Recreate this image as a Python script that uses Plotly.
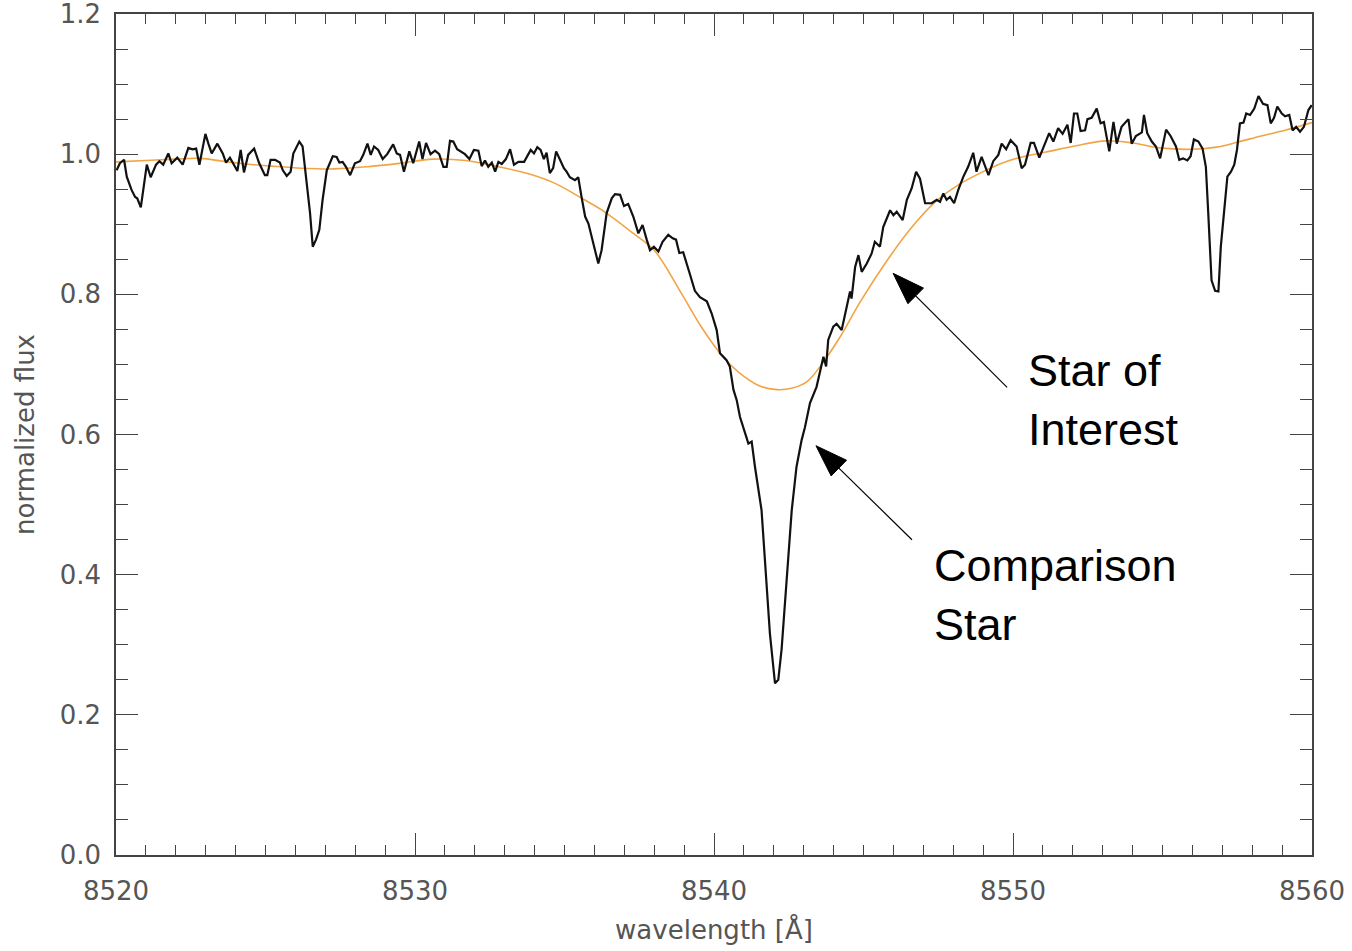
import math
import plotly.graph_objects as go

# Comparison star spectrum (wavelength in Angstrom, normalized flux)
comp_wave = [
    8520.02, 8520.13, 8520.27, 8520.36, 8520.52, 8520.64, 8520.71, 8520.83, 8521.03, 8521.16,
    8521.34, 8521.45, 8521.58, 8521.75, 8521.86, 8522.05, 8522.23, 8522.42, 8522.56, 8522.68,
    8522.79, 8522.99, 8523.09, 8523.20, 8523.39, 8523.57, 8523.68, 8523.81, 8524.06, 8524.17,
    8524.28, 8524.42, 8524.62, 8524.79, 8524.98, 8525.06, 8525.17, 8525.32, 8525.48, 8525.58,
    8525.71, 8525.84, 8525.93, 8526.13, 8526.24, 8526.35, 8526.49, 8526.58, 8526.69, 8526.80,
    8526.91, 8527.05, 8527.25, 8527.38, 8527.47, 8527.58, 8527.69, 8527.83, 8527.99, 8528.16,
    8528.27, 8528.41, 8528.52, 8528.63, 8528.77, 8528.92, 8529.07, 8529.27, 8529.39, 8529.50,
    8529.63, 8529.81, 8529.94, 8530.14, 8530.25, 8530.37, 8530.52, 8530.67, 8530.81, 8530.95,
    8531.06, 8531.17, 8531.28, 8531.41, 8531.67, 8531.82, 8531.97, 8532.12, 8532.23, 8532.34,
    8532.45, 8532.57, 8532.68, 8532.79, 8532.90, 8533.04, 8533.18, 8533.31, 8533.46, 8533.65,
    8533.87, 8533.98, 8534.09, 8534.20, 8534.31, 8534.40, 8534.51, 8534.62, 8534.72, 8534.85,
    8534.98, 8535.07, 8535.18, 8535.35, 8535.46, 8535.57, 8535.69, 8535.80, 8535.94, 8536.13,
    8536.24, 8536.41, 8536.58, 8536.69, 8536.86, 8536.99, 8537.13, 8537.30, 8537.47, 8537.61,
    8537.75, 8537.86, 8537.99, 8538.14, 8538.28, 8538.47, 8538.62, 8538.73, 8538.84, 8538.97,
    8539.20, 8539.36, 8539.53, 8539.76, 8539.92, 8540.09, 8540.20, 8540.42, 8540.53, 8540.65,
    8540.76, 8540.87, 8541.04, 8541.15, 8541.26, 8541.37, 8541.59, 8541.71, 8541.87, 8542.04,
    8542.15, 8542.26, 8542.43, 8542.60, 8542.76, 8542.93, 8543.04, 8543.21, 8543.43, 8543.60,
    8543.66, 8543.75, 8543.82, 8543.99, 8544.10, 8544.27, 8544.44, 8544.55, 8544.60, 8544.72,
    8544.83, 8544.94, 8545.11, 8545.27, 8545.38, 8545.55, 8545.66, 8545.89, 8546.00, 8546.11,
    8546.31, 8546.45, 8546.61, 8546.76, 8546.89, 8547.06, 8547.28, 8547.45, 8547.56, 8547.67,
    8547.78, 8547.89, 8548.03, 8548.17, 8548.34, 8548.50, 8548.67, 8548.78, 8548.95, 8549.18,
    8549.34, 8549.51, 8549.62, 8549.77, 8549.92, 8550.12, 8550.29, 8550.40, 8550.59, 8550.70,
    8550.88, 8551.04, 8551.21, 8551.35, 8551.51, 8551.66, 8551.82, 8551.93, 8552.04, 8552.15,
    8552.26, 8552.41, 8552.49, 8552.63, 8552.80, 8552.93, 8553.04, 8553.22, 8553.36, 8553.47,
    8553.63, 8553.86, 8553.97, 8554.11, 8554.31, 8554.38, 8554.49, 8554.64, 8554.78, 8554.92,
    8555.12, 8555.27, 8555.45, 8555.56, 8555.69, 8555.83, 8555.94, 8556.05, 8556.20, 8556.34,
    8556.45, 8556.53, 8556.64, 8556.76, 8556.87, 8556.95, 8557.06, 8557.17, 8557.29, 8557.40,
    8557.49, 8557.59, 8557.71, 8557.80, 8557.93, 8558.07, 8558.21, 8558.36, 8558.51, 8558.62,
    8558.73, 8558.84, 8558.99, 8559.10, 8559.24, 8559.35, 8559.47, 8559.60, 8559.73, 8559.88,
    8559.99,
]
comp_flux = [
    0.977, 0.987, 0.992, 0.968, 0.949, 0.939, 0.937, 0.924, 0.985, 0.967,
    0.985, 0.990, 0.985, 1.001, 0.987, 0.995, 0.985, 1.009, 1.007, 1.008,
    0.985, 1.029, 1.015, 1.001, 1.015, 1.001, 0.988, 0.995, 0.976, 1.006,
    0.974, 0.999, 1.008, 0.987, 0.970, 0.970, 0.992, 0.992, 0.988, 0.977,
    0.969, 0.975, 1.001, 1.018, 1.011, 0.968, 0.916, 0.868, 0.878, 0.892,
    0.935, 0.977, 0.997, 0.996, 0.988, 0.989, 0.982, 0.970, 0.987, 0.990,
    0.999, 1.015, 0.999, 1.011, 1.006, 0.993, 1.000, 1.014, 1.001, 0.999,
    0.975, 1.004, 0.987, 1.018, 0.993, 1.016, 1.000, 1.005, 1.000, 0.982,
    0.982, 1.019, 1.018, 1.007, 1.000, 0.993, 1.006, 1.005, 0.983, 0.991,
    0.982, 0.988, 0.975, 0.989, 0.986, 0.993, 1.007, 0.985, 0.989, 0.989,
    1.006, 1.001, 1.010, 1.006, 0.993, 1.002, 0.973, 0.980, 1.004, 0.992,
    0.980, 0.975, 0.967, 0.963, 0.967, 0.939, 0.911, 0.901, 0.878, 0.844,
    0.863, 0.916, 0.937, 0.943, 0.942, 0.926, 0.929, 0.911, 0.887, 0.899,
    0.878, 0.863, 0.868, 0.861, 0.875, 0.885, 0.880, 0.878, 0.859, 0.860,
    0.828, 0.805, 0.796, 0.790, 0.773, 0.749, 0.716, 0.706, 0.697, 0.664,
    0.649, 0.625, 0.602, 0.587, 0.590, 0.554, 0.492, 0.411, 0.316, 0.245,
    0.250, 0.293, 0.388, 0.492, 0.554, 0.592, 0.610, 0.645, 0.668, 0.697,
    0.711, 0.697, 0.735, 0.754, 0.758, 0.749, 0.782, 0.804, 0.794, 0.839,
    0.856, 0.832, 0.844, 0.858, 0.875, 0.868, 0.896, 0.920, 0.913, 0.918,
    0.906, 0.935, 0.951, 0.975, 0.965, 0.930, 0.930, 0.935, 0.932, 0.944,
    0.935, 0.939, 0.930, 0.949, 0.968, 0.982, 1.002, 0.975, 0.996, 0.970,
    0.990, 0.999, 1.015, 1.007, 1.020, 1.011, 0.980, 0.985, 1.016, 1.016,
    0.995, 1.013, 1.030, 1.018, 1.037, 1.029, 1.042, 1.016, 1.058, 1.058,
    1.033, 1.034, 1.050, 1.052, 1.065, 1.044, 1.046, 1.004, 1.046, 1.015,
    1.039, 1.050, 1.015, 1.026, 1.031, 1.056, 1.030, 1.018, 1.011, 0.994,
    1.035, 1.026, 1.011, 0.992, 0.994, 0.991, 0.997, 1.021, 1.018, 1.008,
    0.982, 0.916, 0.820, 0.805, 0.804, 0.868, 0.920, 0.968, 0.975, 0.985,
    1.006, 1.044, 1.045, 1.058, 1.056, 1.065, 1.083, 1.072, 1.070, 1.044,
    1.052, 1.068, 1.058, 1.054, 1.056, 1.034, 1.039, 1.032, 1.039, 1.063,
    1.070,
]

# Star of interest: broad, smooth profile
soi_wave = [
    8520.0, 8521.0, 8522.0, 8522.8, 8524.1, 8525.2, 8526.2, 8527.3, 8528.4, 8529.5,
    8530.6, 8531.7, 8532.8, 8533.8, 8534.7, 8535.5, 8536.4, 8537.3, 8538.0, 8538.9,
    8539.6, 8540.3, 8541.0, 8541.6, 8542.1, 8542.6, 8543.1, 8543.6, 8544.2, 8544.9,
    8545.8, 8546.6, 8547.4, 8548.2, 8548.9, 8549.5, 8550.2, 8551.1, 8552.1, 8553.1,
    8554.0, 8554.9, 8556.0, 8556.8, 8557.5, 8558.3, 8559.1, 8560.0,
]
soi_flux = [
    0.989, 0.991, 0.993, 0.994, 0.987, 0.983, 0.980, 0.979, 0.982, 0.987,
    0.993, 0.991, 0.982, 0.972, 0.958, 0.939, 0.916, 0.887, 0.863, 0.802,
    0.752, 0.711, 0.683, 0.668, 0.664, 0.666, 0.675, 0.700, 0.738, 0.790,
    0.849, 0.895, 0.932, 0.957, 0.973, 0.985, 0.995, 1.003, 1.012, 1.019,
    1.016, 1.009, 1.007, 1.010, 1.017, 1.026, 1.034, 1.045,
]

x_ticks = [8520, 8530, 8540, 8550, 8560]
y_ticks = [0.0, 0.2, 0.4, 0.6, 0.8, 1.0, 1.2]

axis_color = "#444444"
label_color = "#555555"
label_family = "DejaVu Sans, sans-serif"
tick_font = dict(family=label_family, size=26, color=label_color)
title_font = dict(family=label_family, size=26, color=label_color)

fig = go.Figure()
fig.add_trace(go.Scatter(
    x=soi_wave, y=soi_flux, mode="lines",
    line=dict(color="#F2A445", width=1.6, shape="spline", smoothing=1.0),
    hoverinfo="skip", showlegend=False,
))
fig.add_trace(go.Scatter(
    x=comp_wave, y=comp_flux, mode="lines",
    line=dict(color="#111111", width=2.2),
    hoverinfo="skip", showlegend=False,
))

common_axis = dict(
    showgrid=False, zeroline=False, automargin=False,
    showline=True, linecolor=axis_color, linewidth=1.5, mirror="ticks",
    ticks="inside", tickcolor=axis_color, tickwidth=1.3,
    tickfont=tick_font, ticklabeloverflow="allow",
)

fig.update_xaxes(
    range=[8520, 8560], tickvals=x_ticks, ticktext=[str(v) for v in x_ticks],
    ticklen=22, ticklabelstandoff=12,
    minor=dict(ticks="inside", dtick=1, ticklen=10, tickcolor=axis_color, tickwidth=1.2),
    title=dict(text="wavelength [Å]", font=title_font, standoff=16),
    **common_axis,
)
fig.update_yaxes(
    range=[0, 1.20001], tickvals=y_ticks, ticktext=[f"{v:.1f}" for v in y_ticks],
    ticklen=22, ticklabelstandoff=8,
    minor=dict(ticks="inside", dtick=0.05, ticklen=12, tickcolor=axis_color, tickwidth=1.2),
    title=dict(text="normalized flux", font=title_font, standoff=18),
    **common_axis,
)

# Labels with arrows pointing at each profile
text_font = dict(family="Liberation Sans, Arial, sans-serif", size=45, color="#000000")
fig.add_annotation(x=8550.45, y=0.649, text="Star of<br>Interest", showarrow=False,
                   xanchor="left", yanchor="middle", align="left", font=text_font)
fig.add_annotation(x=8547.30, y=0.371, text="Comparison<br>Star", showarrow=False,
                   xanchor="left", yanchor="middle", align="left", font=text_font)

arrows = [
    # tip (data), tail offset in screen pixels (dx right, dy down)
    (8545.99, 0.830, 114, 114),
    (8543.41, 0.584, 96, 94),
]
head_len, head_half = 32, 11
for tx, ty, dx, dy in arrows:
    n = math.hypot(dx, dy)
    ux, uy = dx / n, dy / n          # screen direction tip -> tail
    px, py = -uy, ux                 # perpendicular
    bx, by = ux * head_len, uy * head_len
    c1 = (bx + px * head_half, by + py * head_half)
    c2 = (bx - px * head_half, by - py * head_half)
    # pixel-sized shapes use y pointing up, so flip screen y
    tri = f"M0,0 L{c1[0]:.1f},{-c1[1]:.1f} L{c2[0]:.1f},{-c2[1]:.1f} Z"
    fig.add_shape(type="path", xref="x", yref="y", xsizemode="pixel", ysizemode="pixel",
                  xanchor=tx, yanchor=ty, path=tri,
                  fillcolor="#000000", line=dict(color="#000000", width=1))
    fig.add_shape(type="path", xref="x", yref="y", xsizemode="pixel", ysizemode="pixel",
                  xanchor=tx, yanchor=ty,
                  path=f"M{bx:.1f},{-by:.1f} L{dx:.1f},{-dy:.1f}",
                  line=dict(color="#000000", width=1.2))

fig.update_layout(
    width=1352, height=951,
    margin=dict(l=116, r=40, t=14, b=96),
    paper_bgcolor="#ffffff", plot_bgcolor="#ffffff",
    showlegend=False,
)

fig.write_html("out.html")
